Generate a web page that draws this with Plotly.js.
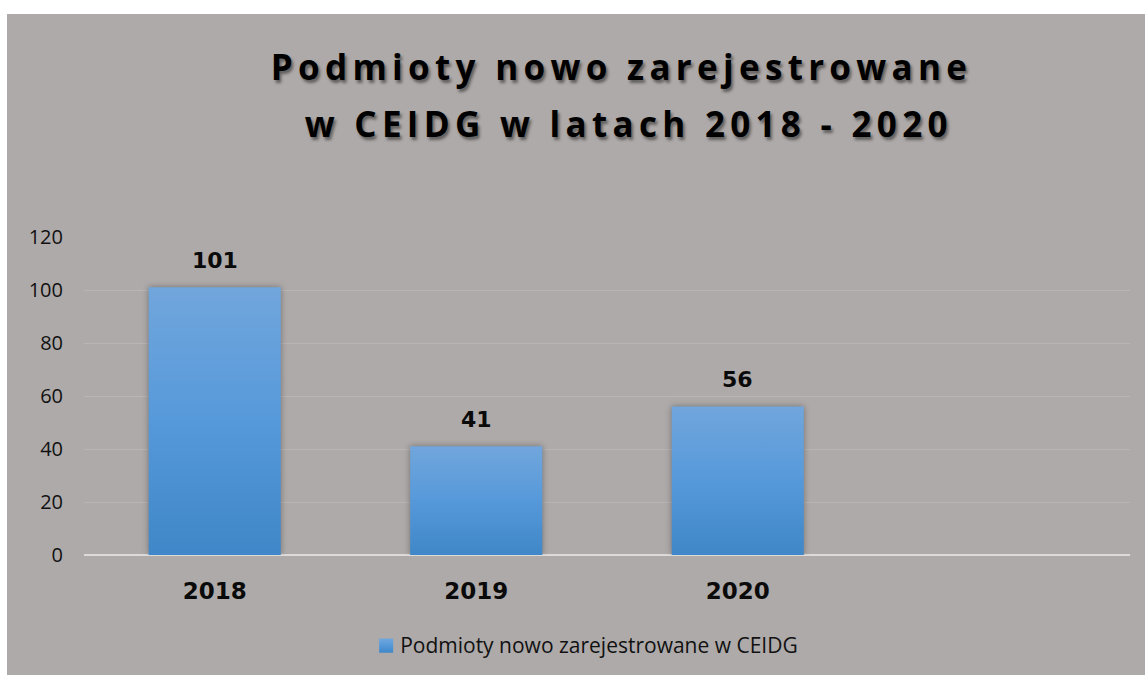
<!DOCTYPE html>
<html>
<head>
<meta charset="utf-8">
<script src="https://cdn.plot.ly/plotly-3.0.1.min.js"></script>
<style>
  html, body { margin: 0; padding: 0; background: #ffffff; }
  #chart { position: absolute; left: 7px; top: 14px; width: 1138px; height: 661px; }
  .gtitle { letter-spacing: 5.3px; }
  .trace.bars .point path { fill: url(#barGrad) !important; filter: drop-shadow(0px 0px 3px rgba(0,0,0,0.35)); }
  .legendpoints path { fill: url(#barGrad) !important; transform: translate(26px, 1px) scale(1.17); }
</style>
</head>
<body>
<svg width="0" height="0" style="position:absolute">
  <defs>
    <linearGradient id="barGrad" x1="0" y1="0" x2="0" y2="1">
      <stop offset="0" stop-color="#71a6dc"/>
      <stop offset="0.5" stop-color="#5699da"/>
      <stop offset="1" stop-color="#3f87c8"/>
    </linearGradient>
  </defs>
</svg>
<div id="chart"></div>
<script>
const titleLines = ["Podmioty nowo zarejestrowane", " w CEIDG w latach 2018 - 2020"];
const seriesName = "Podmioty nowo zarejestrowane w CEIDG";
const categories = ["2018", "2019", "2020", " "];
const values = [101, 41, 56, null];
const yTicks = [0, 20, 40, 60, 80, 100, 120];

const titleText = titleLines.map(t => "<span style='font-size:35px'>" + t + "</span>").join("<br>");

const trace = {
  type: "bar",
  x: categories,
  y: values,
  name: seriesName,
  marker: { color: "#5699da" },
  hoverinfo: "none",
  showlegend: true
};

const annotations = [];
values.forEach((v, i) => {
  if (v === null) return;
  annotations.push({
    x: i, y: v, xref: "x", yref: "y",
    text: String(v), showarrow: false,
    yanchor: "middle", yshift: 27,
    font: { family: "DejaVu Sans", size: 22, weight: "bold", color: "#0a0a0a" }
  });
});

const layout = {
  width: 1138, height: 661,
  paper_bgcolor: "#aeaaa9",
  plot_bgcolor: "#aeaaa9",
  margin: { l: 77, r: 15, t: 223, b: 120, autoexpand: false },
  title: {
    text: titleText,
    x: 0.54, xanchor: "center", xref: "container",
    y: 0.9, yanchor: "top", yref: "container",
    font: { family: "Open Sans", size: 44, weight: "bold", color: "#000000",
            shadow: "2px 3px 3px rgba(0,0,0,0.45)" }
  },
  bargap: 0.495,
  xaxis: {
    type: "category",
    categoryarray: categories,
    range: [-0.5, 3.5],
    showgrid: false, showline: false, zeroline: false,
    ticks: "",
    ticklabelstandoff: 20,
    tickfont: { family: "DejaVu Sans", size: 23, weight: "bold", color: "#0a0a0a" },
    fixedrange: true
  },
  yaxis: {
    range: [0, 120],
    tickvals: yTicks,
    ticktext: yTicks.map(String),
    showgrid: true, gridcolor: "#b9b5b4", gridwidth: 1,
    zeroline: true, zerolinecolor: "#dddbda", zerolinewidth: 2,
    showline: false, ticks: "",
    ticklabelstandoff: 20,
    tickfont: { family: "Open Sans", size: 20, color: "#111111" },
    fixedrange: true
  },
  showlegend: true,
  legend: {
    orientation: "h",
    x: 0.264, xanchor: "left", xref: "paper",
    y: -0.283, yanchor: "middle", yref: "paper",
    bgcolor: "rgba(0,0,0,0)",
    font: { family: "Open Sans", size: 21, color: "#111111" },
    itemwidth: 30
  },
  annotations: annotations
};

Plotly.newPlot("chart", [trace], layout, { displayModeBar: false, staticPlot: true });
</script>
</body>
</html>
